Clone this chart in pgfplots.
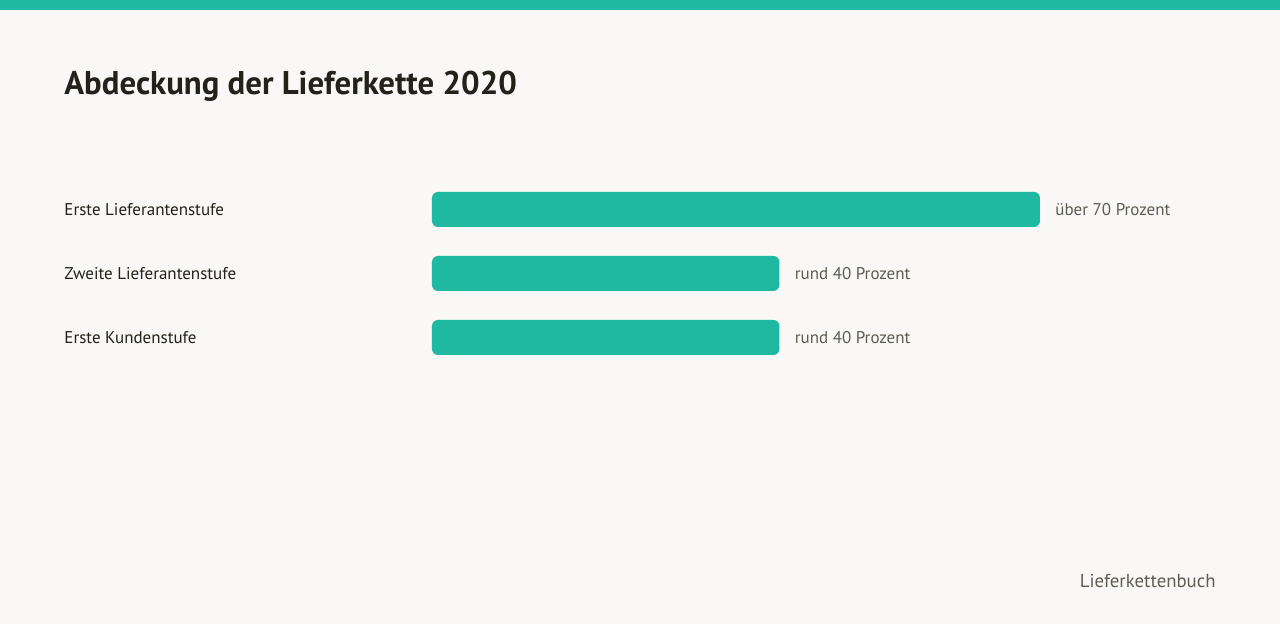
\documentclass[border=0pt]{standalone}
\usepackage{fontspec}
\setmainfont{PT Sans}
\usepackage{pgfplots}
\usepackage{pgfplotstable}
\pgfplotsset{compat=1.18}

\definecolor{teal}{HTML}{1FB8A0}
\definecolor{bg}{HTML}{F9F8F6}
\definecolor{ink}{HTML}{22221A}
\definecolor{muted}{HTML}{5E5D52}

% 1 px of the reference = 0.5pt
\def\u{0.5pt}

\pgfplotstableread[col sep=comma]{
pos,value,label
0,70,über 70 Prozent
1,40,rund 40 Prozent
2,40,rund 40 Prozent
}\coverage

\begin{document}
\begin{tikzpicture}[x=\u, y=\u]
\fill[bg] (0,0) rectangle (1280,624);
\fill[teal] (0,614) rectangle (1280,624);
\path[use as bounding box] (0,0) rectangle (1280,624);

\node[anchor=base west, inner sep=0pt, text=ink, font=\fontsize{16.4}{19}\selectfont\bfseries]
  at (64,529) {Abdeckung der Lieferkette 2020};

\begin{axis}[
    at={(432*\u,254.5*\u)}, anchor=south west,
    scale only axis,
    width=608*\u, height=192*\u,
    xmin=0, xmax=70,
    ymin=-0.5, ymax=2.5,
    y dir=reverse,
    xbar, bar width=17.5pt,
    axis line style={draw=none},
    major tick length=0pt,
    xtick=\empty,
    ytick={0,1,2},
    yticklabels={Erste Lieferantenstufe, Zweite Lieferantenstufe, Erste Kundenstufe},
    yticklabel style={anchor=west, inner sep=0pt, xshift=-368*\u, text=ink,
        font=\fontsize{8.5}{10}\selectfont},
    clip=false,
    point meta=explicit symbolic,
    nodes near coords,
    every node near coord/.append style={anchor=west, inner sep=0pt, xshift=7.5pt,
        text=muted, font=\fontsize{8.5}{10}\selectfont},
]
\addplot[fill=teal, draw=none, rounded corners=3pt]
    table[x=value, y=pos, meta=label] {\coverage};
\end{axis}

\node[anchor=base east, inner sep=0pt, text=muted, font=\fontsize{9.4}{11}\selectfont]
  at (1216,36) {Lieferkettenbuch};
\end{tikzpicture}
\end{document}
